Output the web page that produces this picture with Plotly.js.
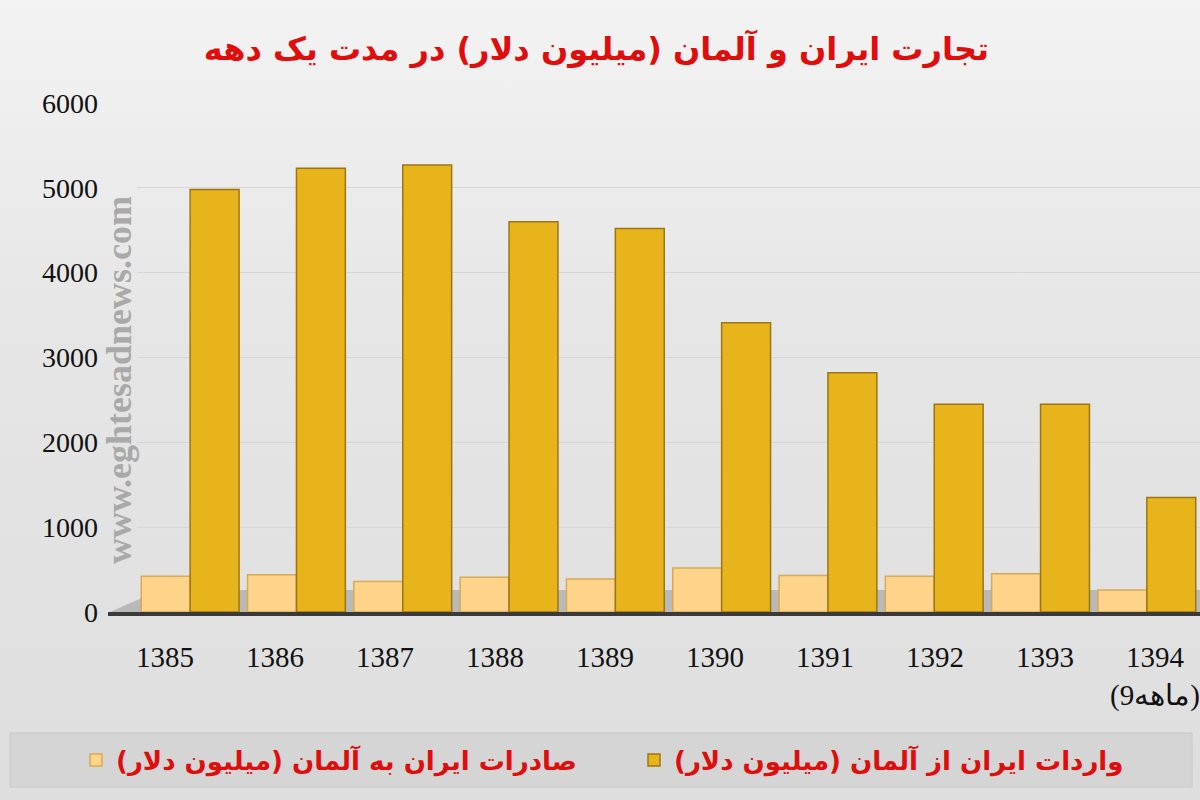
<!DOCTYPE html>
<html>
<head>
<meta charset="utf-8">
<script src="https://cdn.plot.ly/plotly-3.0.1.min.js"></script>
<style>
html,body{margin:0;padding:0;width:1200px;height:800px;overflow:hidden;
background:linear-gradient(180deg,#f3f3f3 0%,#e6e6e6 40%,#dedede 100%);}
#chart{width:1200px;height:800px;}
</style>
</head>
<body>
<div id="chart"></div>
<script>
const years = ['1385','1386','1387','1388','1389','1390','1391','1392','1393','1394'];
const yearLabels = ['1385','1386','1387','1388','1389','1390','1391','1392','1393','1394<br>(ماهه9)'];
const exportsToGermany = [420, 440, 360, 410, 390, 520, 430, 420, 450, 260];
const importsFromGermany = [4980, 5230, 5270, 4600, 4520, 3410, 2820, 2450, 2450, 1350];
const exportsName = 'صادرات ایران به آلمان (میلیون دلار)';
const importsName = 'واردات ایران از آلمان (میلیون دلار)';
const titleText = 'تجارت ایران و آلمان (میلیون دلار) در مدت یک دهه';
const yTicks = [0, 1000, 2000, 3000, 4000, 5000, 6000];

const W = 1200, H = 800;
const M = {l: 137, r: 0, t: 103, b: 188};
const pw = W - M.l - M.r, ph = H - M.t - M.b;
const px = x => (x - M.l) / pw;
const py = y => (H - M.b - y) / ph;

// label axis: category i centred at 165 + 110*i px (perspective spread of labels)
const lblStep = 110, lblStart = 165;
const lblR0 = -(lblStart - M.l) / lblStep;
const lblR1 = lblR0 + pw / lblStep;

const traces = [
  {type:'bar', name: exportsName, x: years, y: exportsToGermany, legend:'legend',
   marker:{color:'#fdd48a', line:{color:'#d9a955', width:1.5}}},
  {type:'bar', name: importsName, x: years, y: importsFromGermany, legend:'legend2',
   marker:{color:'#e8b41c', line:{color:'#9c7610', width:1.5}}},
  {type:'scatter', mode:'markers', x: years.map((_, i) => i), y: years.map(() => null),
   xaxis:'x2', yaxis:'y', showlegend:false, hoverinfo:'skip'}
];

const legendFont = {family: 'DejaVu Sans', size: 26, color: '#e00d0d', weight: 'bold'};

const layout = {
  width: W, height: H,
  margin: M,
  paper_bgcolor: 'rgba(0,0,0,0)',
  plot_bgcolor: 'rgba(0,0,0,0)',
  barmode: 'group', bargap: 0.08, bargroupgap: 0,
  title: {text: titleText, x: 0.497, xref: 'container', y: 0.953, yref: 'container',
          font: {family: 'DejaVu Sans', size: 32, color: '#e00d0d', weight: 'bold'}},
  xaxis: {type: 'category', showgrid: false, zeroline: false,
          showline: true, linecolor: '#3a3a3a', linewidth: 4,
          ticks: '', showticklabels: false},
  xaxis2: {anchor: 'y', overlaying: 'x', side: 'bottom', range: [lblR0, lblR1],
           tickvals: years.map((_, i) => i), ticktext: yearLabels,
           showgrid: false, zeroline: false, showline: false, ticks: '',
           ticklabelstandoff: 25, ticklabeloverflow: 'allow',
           tickfont: {family: 'Liberation Serif', size: 29, color: '#111'}},
  yaxis: {range: [0, 6000], tickvals: yTicks, showgrid: true, gridcolor: '#d6d6d6',
          gridwidth: 1, zeroline: false, showline: false, ticks: '',
          ticklabelstandoff: 38,
          tickfont: {family: 'Liberation Serif', size: 28, color: '#111'}},
  showlegend: true,
  legend: {orientation: 'h', xref: 'container', yref: 'container',
           x: 76/W, xanchor: 'left', y: 1 - 760/H, yanchor: 'middle',
           bgcolor: 'rgba(0,0,0,0)', font: legendFont, itemwidth: 30},
  legend2: {orientation: 'h', xref: 'container', yref: 'container',
           x: 634/W, xanchor: 'left', y: 1 - 760/H, yanchor: 'middle',
           bgcolor: 'rgba(0,0,0,0)', font: legendFont, itemwidth: 30},
  shapes: [
    {type:'rect', xref:'paper', yref:'paper', layer:'below',
     x0: px(10), x1: px(1192), y0: py(787), y1: py(733),
     fillcolor:'#d5d5d5', line:{color:'#c8c8c8', width:1}},
    {type:'path', xref:'paper', yref:'paper', layer:'below',
     path: `M ${px(110)} ${py(612)} L ${px(1200)} ${py(612)} L ${px(1200)} ${py(590)} L ${px(160)} ${py(590)} Z`,
     fillcolor:'#b9b9b9', line:{width:0}},
    {type:'line', xref:'paper', yref:'paper', layer:'above',
     x0: px(108), x1: px(1200), y0: py(614), y1: py(614),
     line:{color:'#3a3a3a', width:4}}
  ],
  annotations: [
    {text: 'www.eghtesadnews.com', xref:'paper', yref:'paper',
     x: px(97), y: py(380), showarrow:false, textangle:-90,
     font:{family:'Liberation Serif', size:36, color:'#a9a9a9', weight:'bold'}}
  ]
};

Plotly.newPlot('chart', traces, layout, {displayModeBar:false, staticPlot:true});
</script>
</body>
</html>
